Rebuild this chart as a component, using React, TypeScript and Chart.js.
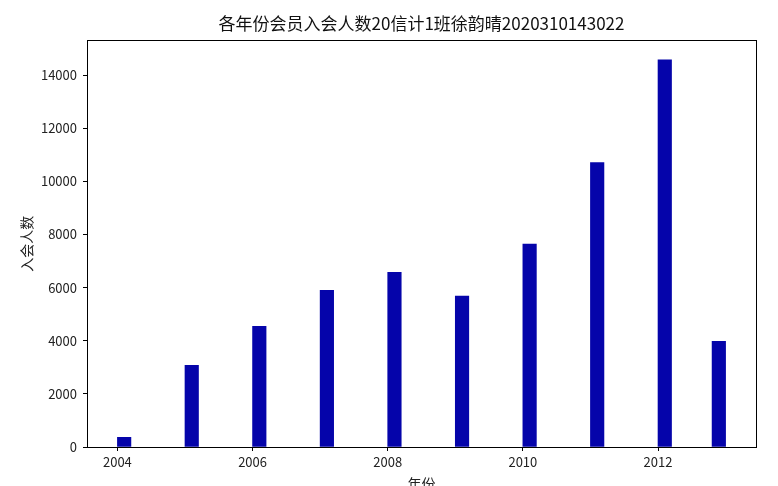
import React, { useEffect, useRef } from "react";
import { Chart, registerables } from "chart.js";

Chart.register(...registerables);

const TITLE = "各年份会员入会人数20信计1班徐韵晴2020310143022";
const X_LABEL = "年份";
const Y_LABEL = "入会人数";

const years = [2004, 2005, 2006, 2007, 2008, 2009, 2010, 2011, 2012, 2013];
// left edge of each bar on the year axis (the last bar sits just left of 2013)
const barStart = [2004, 2005, 2006, 2007, 2008, 2009, 2010, 2011, 2012, 2012.8];
const members = [365, 3075, 4545, 5900, 6575, 5685, 7640, 10705, 14580, 3980];
const BAR_WIDTH_YEARS = 0.2;

const xTicks = [2004, 2006, 2008, 2010, 2012];
const yTicks = [0, 2000, 4000, 6000, 8000, 10000, 12000, 14000];

const FONT = "'Noto Sans CJK SC', 'Noto Sans', sans-serif";
const BAR_COLOR = "#0504aa";

export default function App() {
  const ref = useRef<HTMLCanvasElement | null>(null);

  useEffect(() => {
    if (!ref.current) return;
    const points = years.map((yr, i) => ({
      x: barStart[i] + BAR_WIDTH_YEARS / 2,
      y: members[i],
    }));
    const xMinData = Math.min(...barStart);
    const xMaxData = Math.max(...barStart.map((b) => b + BAR_WIDTH_YEARS));
    const xPad = (xMaxData - xMinData) * 0.05;
    const yMax = Math.max(...members) * 1.05;

    const frame = {
      id: "frame",
      afterDatasetsDraw(chart: any) {
        const { ctx, chartArea: a } = chart;
        ctx.save();
        ctx.strokeStyle = "#000";
        ctx.lineWidth = 1;
        ctx.strokeRect(Math.round(a.left) + 0.5, Math.round(a.top) + 0.5, Math.round(a.right - a.left), Math.round(a.bottom - a.top));
        ctx.restore();
      },
    };

    const chart = new Chart(ref.current, {
      type: "bar",
      data: {
        datasets: [
          {
            label: Y_LABEL,
            data: points,
            backgroundColor: BAR_COLOR,
            borderWidth: 0,
            barThickness: 13.5,
          } as any,
        ],
      },
      options: {
        animation: false,
        responsive: false,
        layout: { padding: { left: 0, right: 22, top: 0, bottom: 0 } },
        plugins: {
          legend: { display: false },
          tooltip: { enabled: false },
          title: {
            display: true,
            text: TITLE,
            fullSize: false,
            color: "#111",
            font: { family: FONT, size: 17, weight: "normal" },
            padding: { top: 13, bottom: 7 },
          },
        },
        scales: {
          x: {
            type: "linear",
            min: xMinData - xPad,
            max: xMaxData + xPad,
            offset: false,
            afterFit: (s: any) => {
              s.height = 53;
            },
            afterBuildTicks: (s: any) => {
              s.ticks = xTicks.map((v) => ({ value: v }));
            },
            ticks: {
              color: "#222",
              font: { family: FONT, size: 13 },
              padding: 3,
              maxRotation: 0,
              autoSkip: false,
              callback: (v: any) => String(v),
            },
            grid: {
              offset: false,
              drawOnChartArea: false,
              drawTicks: true,
              tickLength: 4,
              color: "#000",
            },
            border: { color: "#000", width: 1 },
            title: {
              display: true,
              text: X_LABEL,
              color: "#222",
              font: { family: FONT, size: 14 },
              padding: { top: 0, bottom: 8 },
            },
          },
          y: {
            type: "linear",
            min: 0,
            max: yMax,
            afterFit: (s: any) => {
              s.width = 87;
            },
            afterBuildTicks: (s: any) => {
              s.ticks = yTicks.map((v) => ({ value: v }));
            },
            ticks: {
              color: "#222",
              font: { family: FONT, size: 13 },
              padding: 6,
              autoSkip: false,
              callback: (v: any) => String(v),
            },
            grid: {
              drawOnChartArea: false,
              drawTicks: true,
              tickLength: 4,
              color: "#000",
            },
            border: { color: "#000", width: 1 },
            title: {
              display: true,
              text: Y_LABEL,
              color: "#222",
              font: { family: FONT, size: 14 },
              padding: { top: 18, bottom: 0 },
            },
          },
        },
      },
      plugins: [frame],
    });
    return () => chart.destroy();
  }, []);

  return (
    <div
      style={{
        position: "fixed",
        left: 0,
        top: 0,
        width: 778,
        height: 486,
        overflow: "hidden",
        background: "#fff",
      }}
    >
      <canvas ref={ref} width={778} height={500} style={{ display: "block" }} />
    </div>
  );
}
